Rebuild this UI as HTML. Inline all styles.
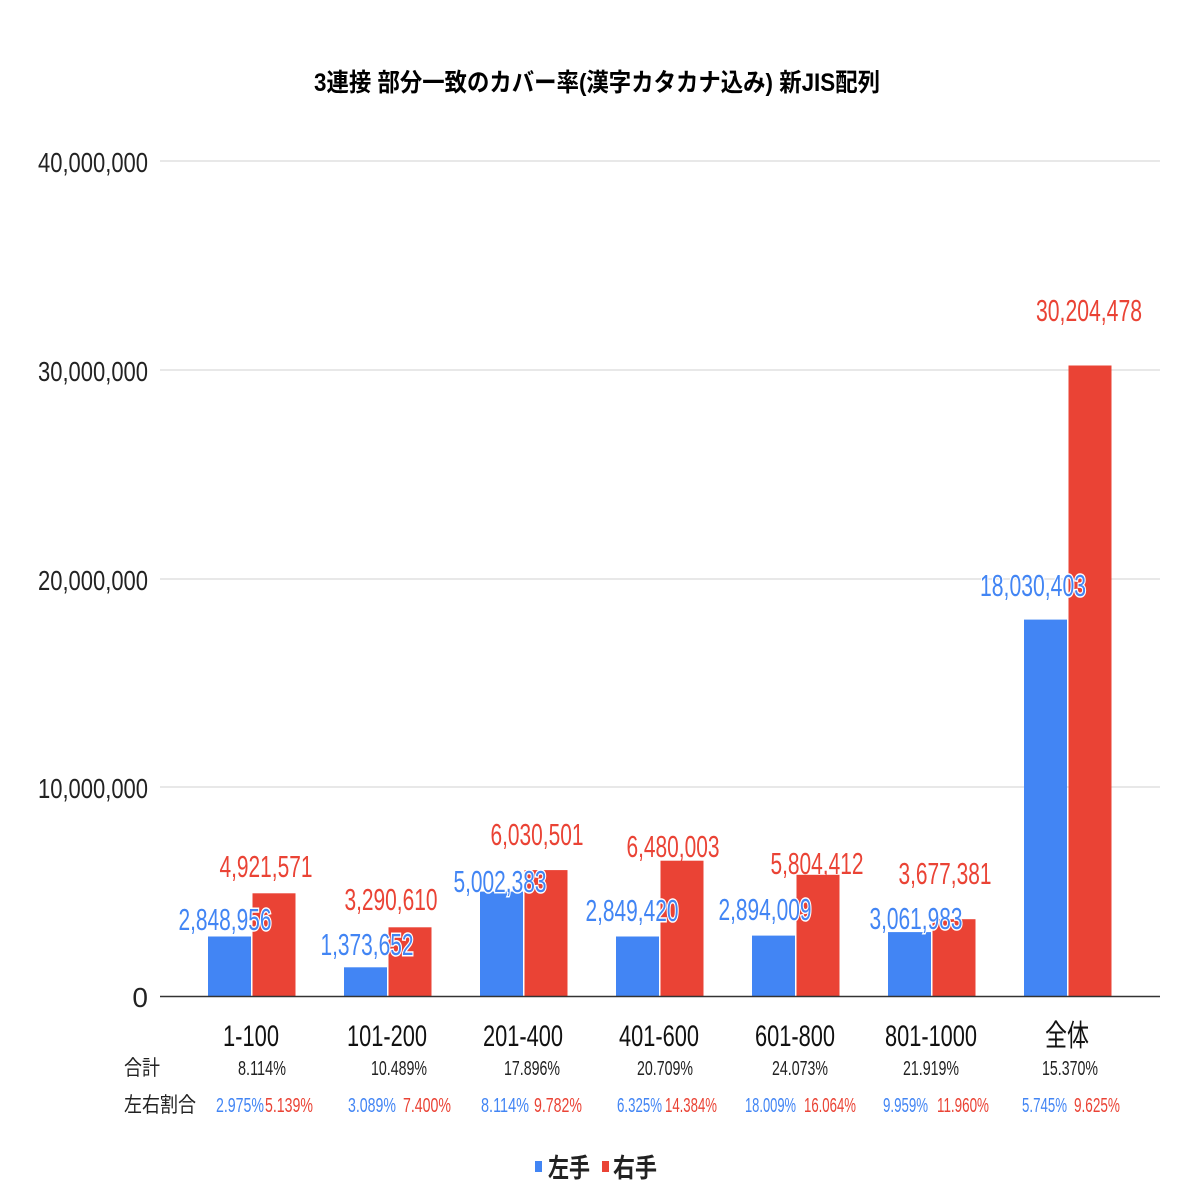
<!DOCTYPE html><html><head><meta charset="utf-8"><style>body{margin:0;background:#fff}svg{display:block}</style></head><body>
<svg width="1196" height="1196" xmlns="http://www.w3.org/2000/svg" font-family="Liberation Sans, Noto Sans CJK JP, sans-serif">
<rect width="1196" height="1196" fill="#fff"/>
<text x="597" y="91" text-anchor="middle" font-size="25" font-weight="bold" textLength="566" lengthAdjust="spacingAndGlyphs">3連接 部分一致のカバー率(漢字カタカナ込み) 新JIS配列</text>
<g stroke="#d0d0d0" stroke-width="1">
<line x1="160" y1="161" x2="1160" y2="161"/><line x1="160" y1="370" x2="1160" y2="370"/><line x1="160" y1="579" x2="1160" y2="579"/><line x1="160" y1="787" x2="1160" y2="787"/>
</g>
<g font-size="28" text-anchor="end" fill="#222">
<text x="148" y="172" textLength="110" lengthAdjust="spacingAndGlyphs">40,000,000</text>
<text x="148" y="381" textLength="110" lengthAdjust="spacingAndGlyphs">30,000,000</text>
<text x="148" y="590" textLength="110" lengthAdjust="spacingAndGlyphs">20,000,000</text>
<text x="148" y="798" textLength="110" lengthAdjust="spacingAndGlyphs">10,000,000</text>
<text x="148" y="1007">0</text>
</g>
<g fill="#4285f4">
<rect x="208" y="936.5" width="43" height="59.5"/><rect x="344" y="967.3" width="43" height="28.7"/><rect x="480" y="891.6" width="43" height="104.4"/><rect x="616" y="936.5" width="43" height="59.5"/><rect x="752" y="935.6" width="43" height="60.4"/><rect x="888" y="932.1" width="43" height="63.9"/><rect x="1024" y="619.6" width="43" height="376.4"/>
</g>
<g fill="#ea4335">
<rect x="252.5" y="893.3" width="43" height="102.7"/><rect x="388.5" y="927.3" width="43" height="68.7"/><rect x="524.5" y="870.1" width="43" height="125.9"/><rect x="660.5" y="860.7" width="43" height="135.3"/><rect x="796.5" y="874.8" width="43" height="121.2"/><rect x="932.5" y="919.2" width="43" height="76.8"/><rect x="1068.5" y="365.5" width="43" height="630.5"/>
</g>
<line x1="160" y1="996.5" x2="1160" y2="996.5" stroke="#333" stroke-width="1.5"/>
<g font-size="31" text-anchor="middle" fill="#ea4335">
<text x="266" y="877" textLength="93" lengthAdjust="spacingAndGlyphs">4,921,571</text>
<text x="391" y="910" textLength="93" lengthAdjust="spacingAndGlyphs">3,290,610</text>
<text x="537" y="845" textLength="93" lengthAdjust="spacingAndGlyphs">6,030,501</text>
<text x="673" y="857" textLength="93" lengthAdjust="spacingAndGlyphs">6,480,003</text>
<text x="817" y="874" textLength="93" lengthAdjust="spacingAndGlyphs">5,804,412</text>
<text x="945" y="884" textLength="93" lengthAdjust="spacingAndGlyphs">3,677,381</text>
<text x="1089" y="321" textLength="106" lengthAdjust="spacingAndGlyphs">30,204,478</text>
</g>
<g font-size="31" text-anchor="middle" fill="#4285f4" stroke="#fff" stroke-width="3" paint-order="stroke">
<text x="225" y="930" textLength="93" lengthAdjust="spacingAndGlyphs">2,848,956</text>
<text x="367" y="955" textLength="93" lengthAdjust="spacingAndGlyphs">1,373,652</text>
<text x="500" y="892" textLength="93" lengthAdjust="spacingAndGlyphs">5,002,383</text>
<text x="632" y="921" textLength="93" lengthAdjust="spacingAndGlyphs">2,849,420</text>
<text x="765" y="920" textLength="93" lengthAdjust="spacingAndGlyphs">2,894,009</text>
<text x="916" y="929" textLength="93" lengthAdjust="spacingAndGlyphs">3,061,983</text>
<text x="1033" y="596" textLength="106" lengthAdjust="spacingAndGlyphs">18,030,403</text>
</g>
<g font-size="30" text-anchor="middle" fill="#111">
<text x="251" y="1046" textLength="56" lengthAdjust="spacingAndGlyphs">1-100</text>
<text x="387" y="1046" textLength="80" lengthAdjust="spacingAndGlyphs">101-200</text>
<text x="523" y="1046" textLength="80" lengthAdjust="spacingAndGlyphs">201-400</text>
<text x="659" y="1046" textLength="80" lengthAdjust="spacingAndGlyphs">401-600</text>
<text x="795" y="1046" textLength="80" lengthAdjust="spacingAndGlyphs">601-800</text>
<text x="931" y="1046" textLength="92" lengthAdjust="spacingAndGlyphs">801-1000</text>
<text x="1067" y="1046" textLength="44" lengthAdjust="spacingAndGlyphs">全体</text>
</g>
<g font-size="21" fill="#222">
<text x="124" y="1075" textLength="36" lengthAdjust="spacingAndGlyphs">合計</text>
<text x="124" y="1112" textLength="72" lengthAdjust="spacingAndGlyphs">左右割合</text>
</g>
<g font-size="20" text-anchor="middle" fill="#222">
<text x="262" y="1075" textLength="48" lengthAdjust="spacingAndGlyphs">8.114%</text>
<text x="399" y="1075" textLength="56" lengthAdjust="spacingAndGlyphs">10.489%</text>
<text x="532" y="1075" textLength="56" lengthAdjust="spacingAndGlyphs">17.896%</text>
<text x="665" y="1075" textLength="56" lengthAdjust="spacingAndGlyphs">20.709%</text>
<text x="800" y="1075" textLength="56" lengthAdjust="spacingAndGlyphs">24.073%</text>
<text x="931" y="1075" textLength="56" lengthAdjust="spacingAndGlyphs">21.919%</text>
<text x="1070" y="1075" textLength="56" lengthAdjust="spacingAndGlyphs">15.370%</text>
</g>
<g font-size="20" fill="#4285f4">
<text x="216" y="1112" textLength="48" lengthAdjust="spacingAndGlyphs">2.975%</text>
<text x="348" y="1112" textLength="48" lengthAdjust="spacingAndGlyphs">3.089%</text>
<text x="481" y="1112" textLength="48" lengthAdjust="spacingAndGlyphs">8.114%</text>
<text x="617" y="1112" textLength="45" lengthAdjust="spacingAndGlyphs">6.325%</text>
<text x="745" y="1112" textLength="51" lengthAdjust="spacingAndGlyphs">18.009%</text>
<text x="883" y="1112" textLength="45" lengthAdjust="spacingAndGlyphs">9.959%</text>
<text x="1022" y="1112" textLength="45" lengthAdjust="spacingAndGlyphs">5.745%</text>
</g>
<g font-size="20" fill="#ea4335">
<text x="265" y="1112" textLength="48" lengthAdjust="spacingAndGlyphs">5.139%</text>
<text x="403" y="1112" textLength="48" lengthAdjust="spacingAndGlyphs">7.400%</text>
<text x="534" y="1112" textLength="48" lengthAdjust="spacingAndGlyphs">9.782%</text>
<text x="665" y="1112" textLength="52" lengthAdjust="spacingAndGlyphs">14.384%</text>
<text x="804" y="1112" textLength="52" lengthAdjust="spacingAndGlyphs">16.064%</text>
<text x="937" y="1112" textLength="52" lengthAdjust="spacingAndGlyphs">11.960%</text>
<text x="1074" y="1112" textLength="46" lengthAdjust="spacingAndGlyphs">9.625%</text>
</g>
<rect x="535" y="1161" width="7" height="11" fill="#4285f4"/>
<text x="548" y="1177" font-size="26" font-weight="bold" fill="#222" textLength="42" lengthAdjust="spacingAndGlyphs">左手</text>
<rect x="602" y="1161" width="7" height="11" fill="#ea4335"/>
<text x="613" y="1177" font-size="26" font-weight="bold" fill="#222" textLength="44" lengthAdjust="spacingAndGlyphs">右手</text>
</svg>
</body></html>
